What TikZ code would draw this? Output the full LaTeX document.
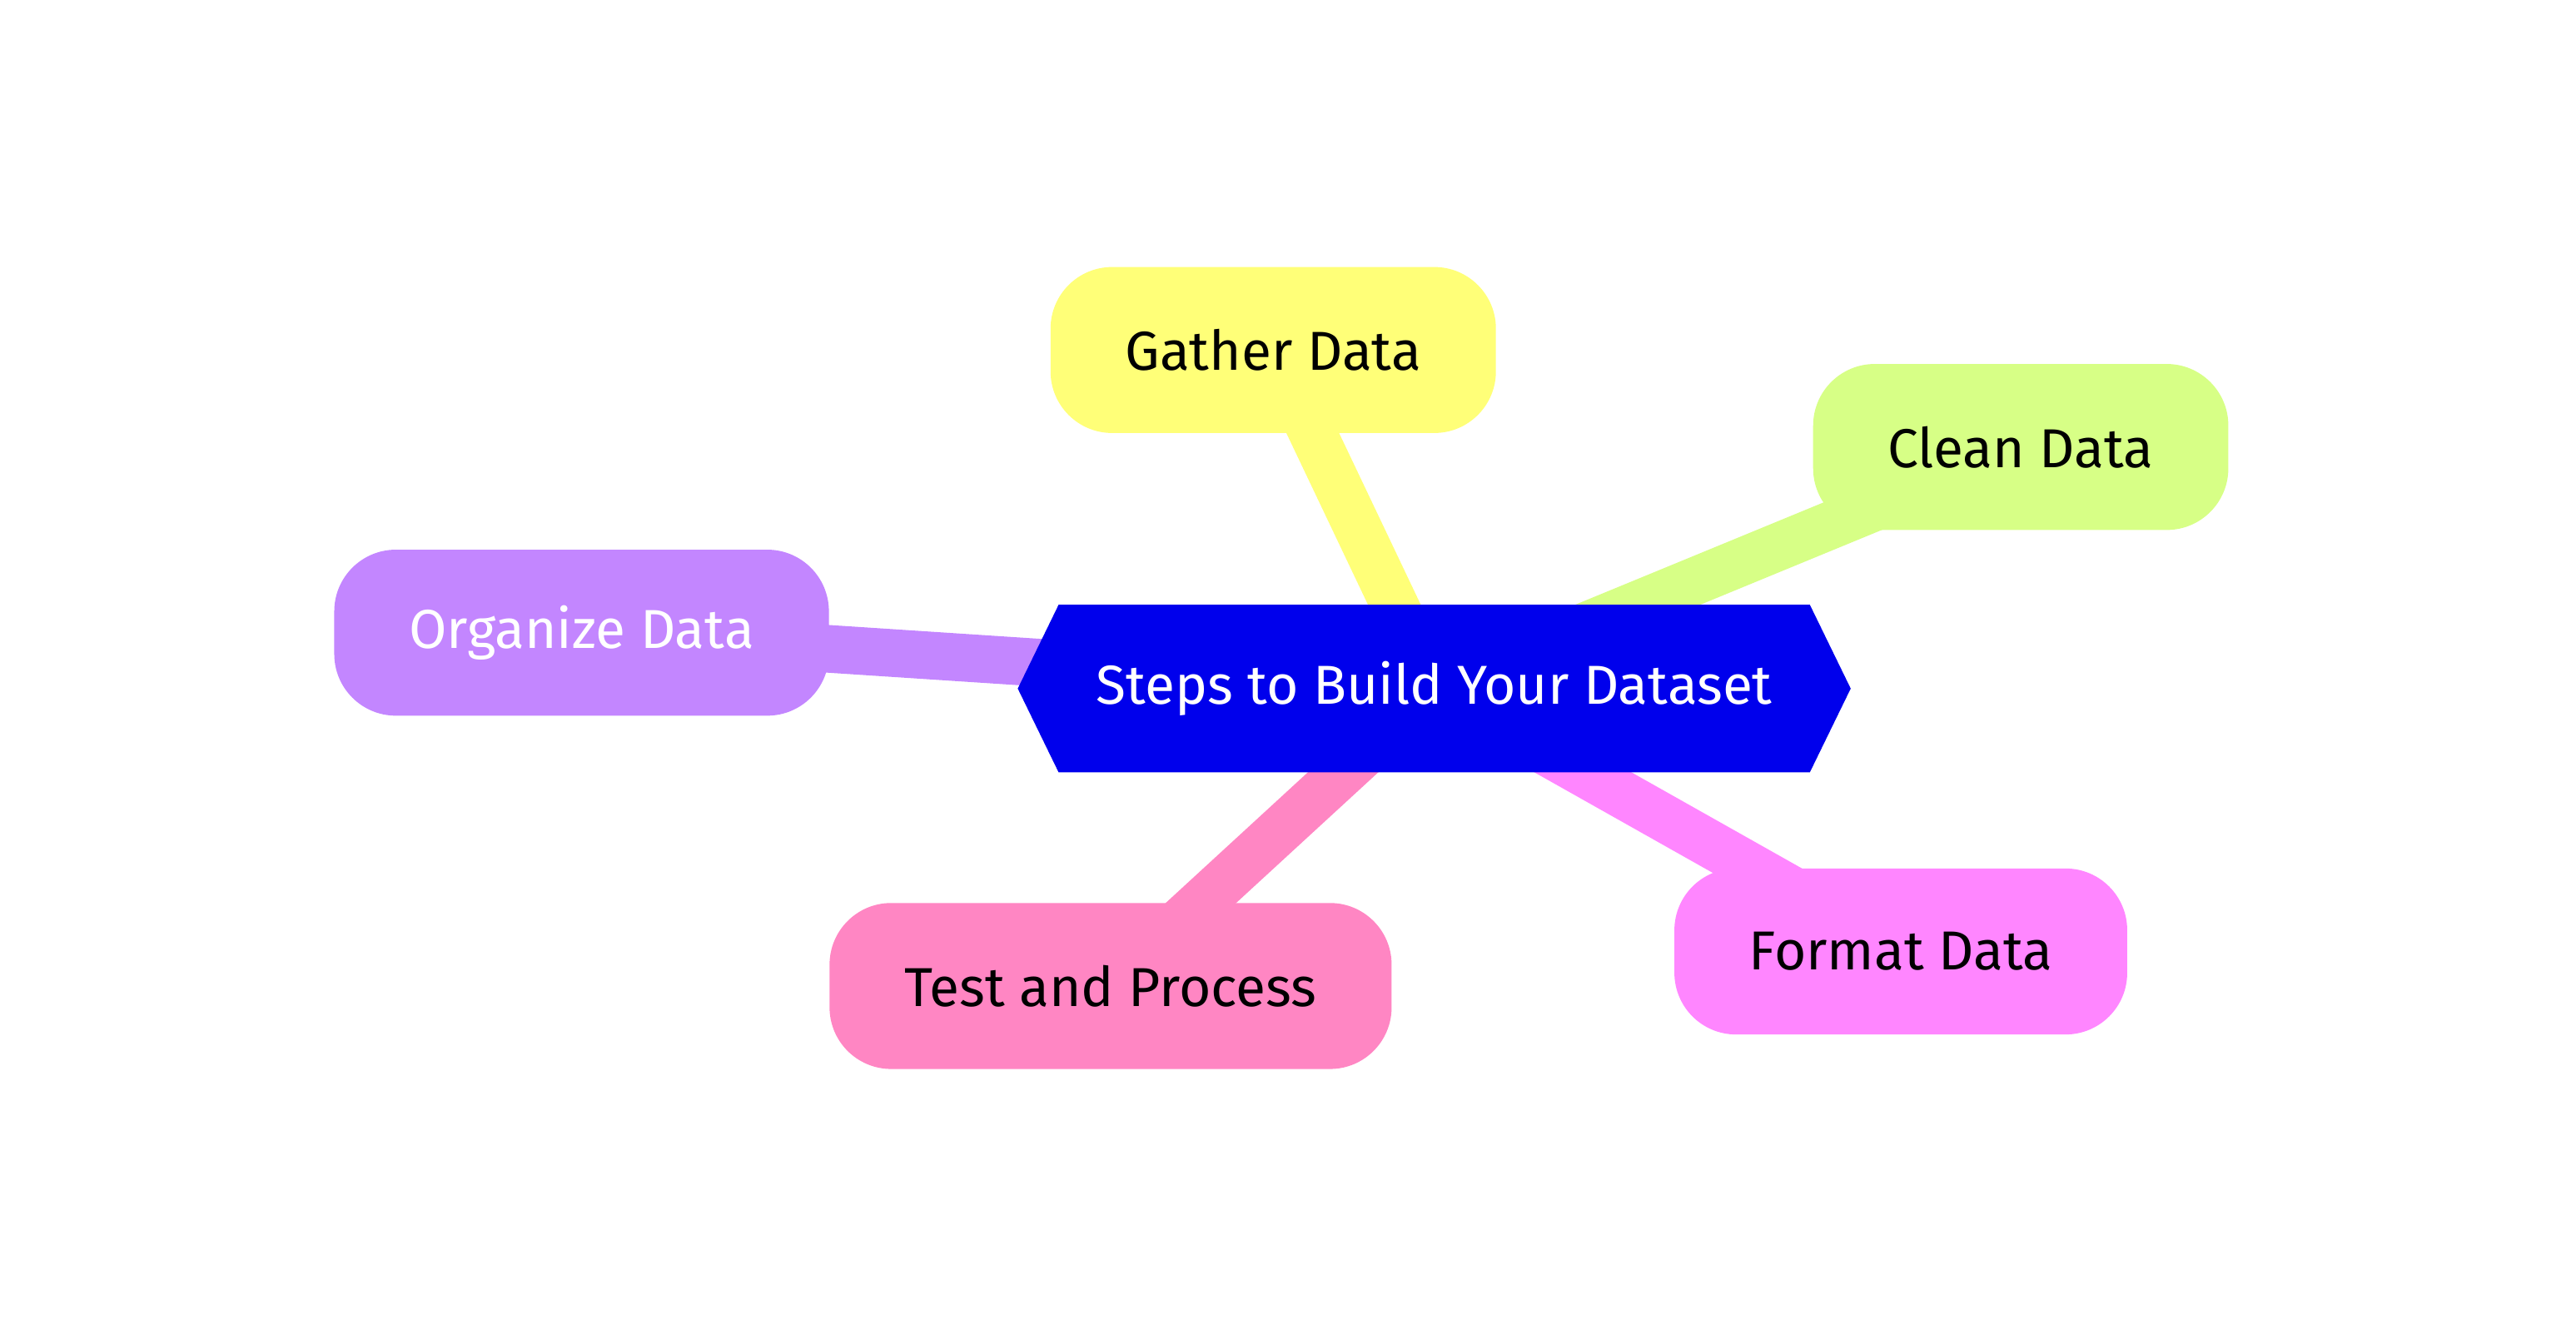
\documentclass[tikz,border=0pt]{standalone}
\usepackage{fontspec}
\setmainfont{Fira Sans}
\usetikzlibrary{shapes.symbols,backgrounds}

\definecolor{rootblue}{RGB}{0,0,236}
\definecolor{gathercol}{RGB}{255,255,120}
\definecolor{cleancol}{RGB}{215,255,134}
\definecolor{organizecol}{RGB}{195,134,255}
\definecolor{testcol}{RGB}{255,134,195}
\definecolor{formatcol}{RGB}{255,134,255}

\begin{document}
\begin{tikzpicture}[
    topic/.style={rectangle, rounded corners=0.75cm, minimum height=2.02cm, inner xsep=0.91cm, font=\fontsize{19}{23}\selectfont},
    root/.style={signal, signal to=west and east, signal pointer angle=128, fill=rootblue, text=white, minimum height=2.04cm, minimum width=10.14cm, font=\fontsize{19}{23}\selectfont},
    branch/.style={line width=0.58cm}
]
    \useasboundingbox (0,0) rectangle (31.36,-16.12);

    \node[root] (root) at (17.46,-8.38) {Steps to Build Your Dataset};
    \node[topic, fill=gathercol] (gather) at (15.50,-4.26) {Gather Data};
    \node[topic, fill=cleancol] (clean) at (24.60,-5.44) {Clean Data};
    \node[topic, fill=organizecol, text=white] (organize) at (7.08,-7.70) {Organize Data};
    \node[topic, fill=testcol] (test) at (13.52,-12.00) {Test and Process};
    \node[topic, fill=formatcol] (format) at (23.14,-11.58) {Format Data};

    \begin{scope}[on background layer]
        \draw[branch, gathercol] (root.center) -- (gather.center);
        \draw[branch, cleancol] (root.center) -- (clean.center);
        \draw[branch, organizecol] (root.center) -- (organize.center);
        \draw[branch, testcol] (root.center) -- (test.center);
        \draw[branch, formatcol] (root.center) -- (format.center);
    \end{scope}
\end{tikzpicture}
\end{document}
